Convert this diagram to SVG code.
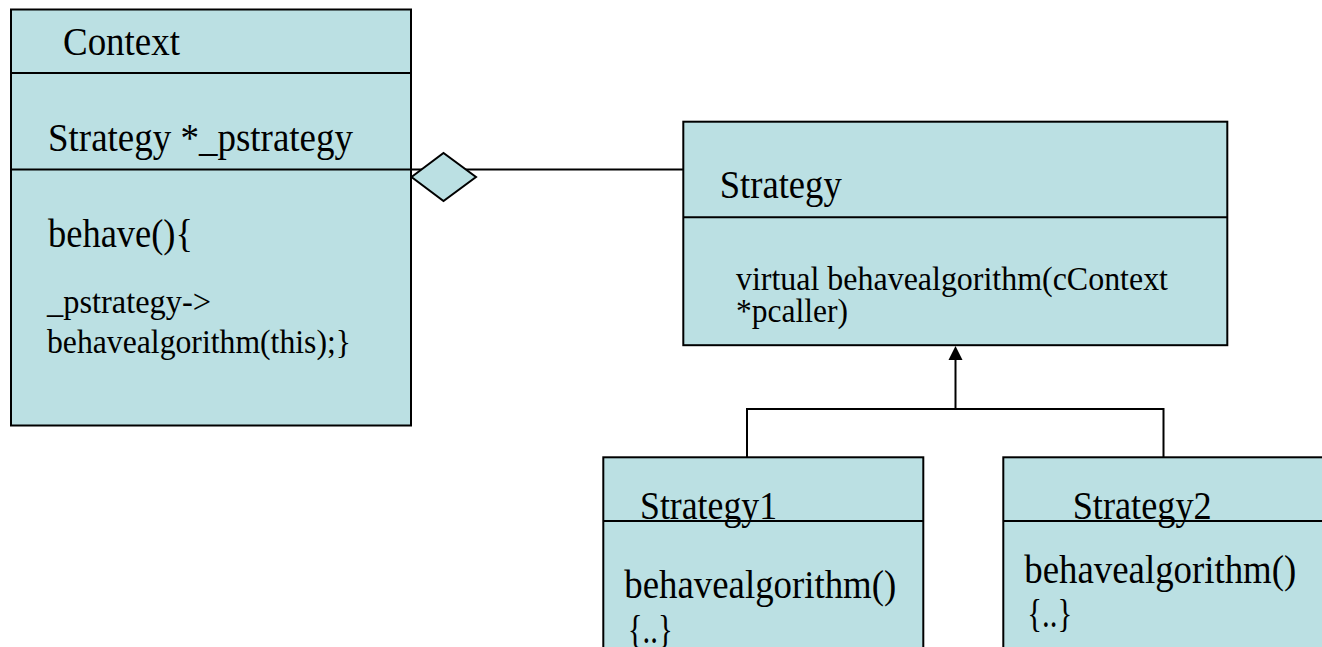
<svg xmlns="http://www.w3.org/2000/svg" width="1322" height="647" viewBox="0 0 1322 647">
  <style>
    .box { fill: #BBE0E3; stroke: #000; stroke-width: 2; }
    .sep { stroke: #000; stroke-width: 2; fill: none; }
    .wire { stroke: #000; stroke-width: 2; fill: none; }
    text { fill: #000; }
    .lg { font-size: 39px; }
    .sm { font-size: 34px; }
  </style>
  <rect width="1322" height="647" fill="#fff"/>

  <!-- connectors -->
  <g id="connectors">
    <!-- aggregation: Context holds a Strategy -->
    <line class="wire" x1="411" y1="169.5" x2="683" y2="169.5"/>
    <polygon class="box" points="411.5,177 443.5,153 476,177 443.5,201"/>
    <!-- generalization: Strategy1 / Strategy2 derive from Strategy -->
    <path class="wire" d="M747,457 V409 H1163.5 V457"/>
    <line class="wire" x1="955.5" y1="409" x2="955.5" y2="358"/>
    <path d="M955.5,346 L962.5,360 L948.5,360 Z" fill="#000"/>
  </g>

  <g font-family="'Liberation Serif', 'DejaVu Serif', serif">
    <!-- Context class -->
    <g id="context">
      <rect class="box" x="11" y="9.5" width="400" height="416"/>
      <line class="sep" x1="11" y1="73" x2="411" y2="73"/>
      <line class="sep" x1="11" y1="169.5" x2="411" y2="169.5"/>
      <text class="lg" x="63" y="54.5" textLength="117" lengthAdjust="spacingAndGlyphs">Context</text>
      <text class="lg" x="48" y="151" textLength="305" lengthAdjust="spacingAndGlyphs">Strategy *_pstrategy</text>
      <text class="lg" x="48" y="247" textLength="145" lengthAdjust="spacingAndGlyphs">behave(){</text>
      <text class="sm" x="47" y="313" textLength="164" lengthAdjust="spacingAndGlyphs">_pstrategy-&gt;</text>
      <text class="sm" x="47" y="353" textLength="304" lengthAdjust="spacingAndGlyphs">behavealgorithm(this);}</text>
    </g>

    <!-- Strategy interface -->
    <g id="strategy">
      <rect class="box" x="683.3" y="121.7" width="544" height="223.5"/>
      <line class="sep" x1="683.3" y1="217.3" x2="1227.3" y2="217.3"/>
      <text class="lg" x="719.7" y="198" textLength="122" lengthAdjust="spacingAndGlyphs">Strategy</text>
      <text class="sm" x="736" y="290" textLength="432" lengthAdjust="spacingAndGlyphs">virtual behavealgorithm(cContext</text>
      <text class="sm" x="736" y="322" textLength="112" lengthAdjust="spacingAndGlyphs">*pcaller)</text>
    </g>

    <!-- Strategy1 implementation -->
    <g id="strategy1">
      <rect class="box" x="603.3" y="457.3" width="320" height="220"/>
      <line class="sep" x1="603.3" y1="521" x2="923.3" y2="521"/>
      <text class="lg" x="640" y="519.3" textLength="137" lengthAdjust="spacingAndGlyphs">Strategy1</text>
      <text class="lg" x="624.3" y="598" textLength="272" lengthAdjust="spacingAndGlyphs">behavealgorithm()</text>
      <text class="lg" x="627.7" y="643" textLength="45" lengthAdjust="spacingAndGlyphs">{..}</text>
    </g>

    <!-- Strategy2 implementation -->
    <g id="strategy2">
      <rect class="box" x="1003.3" y="457.3" width="360" height="220"/>
      <line class="sep" x1="1003.3" y1="521" x2="1340" y2="521"/>
      <text class="lg" x="1072.7" y="519.3" textLength="139" lengthAdjust="spacingAndGlyphs">Strategy2</text>
      <text class="lg" x="1024.3" y="583.3" textLength="272" lengthAdjust="spacingAndGlyphs">behavealgorithm()</text>
      <text class="lg" x="1027.3" y="626.7" textLength="45" lengthAdjust="spacingAndGlyphs">{..}</text>
    </g>
  </g>
</svg>
